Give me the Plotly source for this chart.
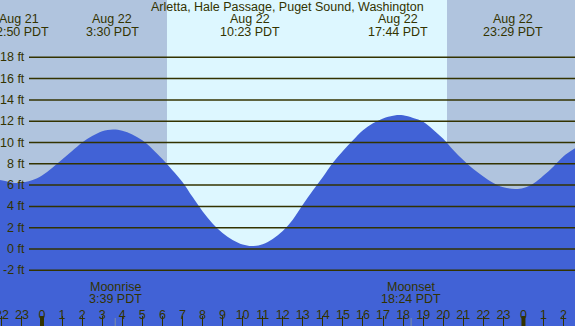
import plotly.graph_objects as go

# ---- data ----
title = "Arletta, Hale Passage, Puget Sound, Washington"
hours = [-2.09, -1.5, -1.17, -0.5, 0, 0.5, 1, 1.5, 2, 2.5, 3, 3.54, 4, 4.5, 5, 5.5, 6, 6.5, 7, 7.5,
         8, 8.5, 9, 9.5, 10, 10.45, 11, 11.5, 12, 12.5, 13, 13.5, 14, 14.5, 15, 15.5, 16, 16.5, 17,
         17.5, 17.76, 18, 18.5, 19, 19.5, 20, 20.5, 21, 21.5, 22, 22.5, 23, 23.58, 24, 24.5, 25, 25.5,
         26, 26.57]
heights = [6.47, 6.25, 6.2, 6.45, 6.9, 7.6, 8.4, 9.2, 10.0, 10.6, 11.05, 11.22, 11.1, 10.75, 10.2,
           9.4, 8.45, 7.4, 6.3, 4.9, 3.55, 2.4, 1.5, 0.85, 0.42, 0.28, 0.45, 0.95, 1.7, 2.75, 4.15,
           5.5, 6.75, 8.1, 9.2, 10.2, 11.15, 11.8, 12.25, 12.5, 12.58, 12.55, 12.3, 11.95, 11.2, 10.35,
           9.3, 8.35, 7.5, 6.8, 6.2, 5.8, 5.63, 5.72, 6.15, 6.9, 7.75, 8.7, 9.45]
extreme_hours = [-1.17, 3.5, 10.38, 17.73, 23.48]
extreme_dates = ["Aug 21", "Aug 22", "Aug 22", "Aug 22", "Aug 22"]
extreme_times = ["22:50 PDT", "3:30 PDT", "10:23 PDT", "17:44 PDT", "23:29 PDT"]
moon_hours = [3.65, 18.4]
moon_events = ["Moonrise", "Moonset"]
moon_times = ["3:39 PDT", "18:24 PDT"]
sunrise, sunset = 6.23, 20.19
tick_hours = list(range(-2, 27))
tick_text = [str(h % 24) for h in tick_hours]
ft_ticks = list(range(-2, 19, 2))
ft_labels = [f"{v} ft" for v in ft_ticks]
midnights = [0, 24]

# ---- style ----
W, H = 575, 326
X0, X1 = -2.094, 26.57
Y0, Y1 = -7.23, 23.38
TXT = "#333300"
FONT = "Liberation Sans, Arial, sans-serif"
NIGHT = "#B0C4DE"
DAY = "#DDF7FF"
FILL = "#4162D6"

def py(px):
    return 1 - px / H

fig = go.Figure()
fig.add_trace(go.Scatter(x=[X0 - 1, X1 + 1], y=[Y0 - 2, Y0 - 2], mode="lines",
                         line=dict(width=0), hoverinfo="skip", showlegend=False))
fig.add_trace(go.Scatter(x=hours, y=heights, mode="lines", line=dict(width=0, shape="spline", color=FILL),
                         fill="tonexty", fillcolor=FILL, showlegend=False))

shapes = []
# night / day background
shapes.append(dict(type="rect", xref="x", yref="paper", x0=X0 - 1, x1=sunrise, y0=0, y1=1,
                   fillcolor=NIGHT, line_width=0, layer="below"))
shapes.append(dict(type="rect", xref="x", yref="paper", x0=sunrise, x1=sunset, y0=0, y1=1,
                   fillcolor=DAY, line_width=0, layer="below"))
shapes.append(dict(type="rect", xref="x", yref="paper", x0=sunset, x1=X1 + 1, y0=0, y1=1,
                   fillcolor=NIGHT, line_width=0, layer="below"))
# horizontal lines
for v in ft_ticks:
    shapes.append(dict(type="line", xref="paper", yref="y", x0=29 / W, x1=1, y0=v, y1=v,
                       line=dict(color=TXT, width=1.5)))
# midnight thick ticks
for m in midnights:
    shapes.append(dict(type="line", xref="x", yref="paper", x0=m, x1=m, y0=0, y1=10 / H,
                       line=dict(color=TXT, width=4)))
# moon ticks
for m in moon_hours:
    shapes.append(dict(type="line", xref="x", yref="paper", x0=m, x1=m, y0=0, y1=8 / H,
                       line=dict(color="#8090A0", width=1)))

def font():
    return dict(size=12.5, color=TXT, family=FONT)

ann = []
ann.append(dict(text=title, x=0.5, y=py(7), xref="paper", yref="paper", showarrow=False,
                xanchor="center", yanchor="middle", font=font()))
for h, d, t in zip(extreme_hours, extreme_dates, extreme_times):
    ann.append(dict(text=d, x=h, y=py(19.5), xref="x", yref="paper", showarrow=False,
                    xanchor="center", yanchor="middle", font=font()))
    ann.append(dict(text=t, x=h, y=py(31.5), xref="x", yref="paper", showarrow=False,
                    xanchor="center", yanchor="middle", font=font()))
for h, e, t in zip(moon_hours, moon_events, moon_times):
    ann.append(dict(text=e, x=h, y=py(287), xref="x", yref="paper", showarrow=False,
                    xanchor="center", yanchor="middle", font=font()))
    ann.append(dict(text=t, x=h, y=py(298.5), xref="x", yref="paper", showarrow=False,
                    xanchor="center", yanchor="middle", font=font()))
for v, t in zip(ft_ticks, ft_labels):
    ann.append(dict(text=t, x=27 / W, y=v, xref="paper", yref="y", showarrow=False,
                    xanchor="right", yanchor="middle", font=font()))

fig.update_layout(
    width=W, height=H, margin=dict(l=0, r=0, t=0, b=0, autoexpand=False),
    paper_bgcolor=NIGHT, plot_bgcolor=NIGHT,
    shapes=shapes, annotations=ann, showlegend=False,
    xaxis=dict(range=[X0, X1], tickvals=tick_hours, ticktext=tick_text, ticks="inside",
               ticklen=10, tickwidth=1.3, tickcolor=TXT, ticklabelposition="inside",
               ticklabeloverflow="allow", showgrid=False, zeroline=False, showline=False,
               automargin=False, ticklabelstandoff=-6,
               tickfont=dict(size=12.5, color=TXT, family=FONT)),
    yaxis=dict(range=[Y0, Y1], showticklabels=False, showgrid=False, zeroline=False, ticks="",
               automargin=False),
)
fig.write_html("out.html", config={"displayModeBar": False},
               post_script="document.body.style.margin='0';document.body.style.overflow='hidden';")
